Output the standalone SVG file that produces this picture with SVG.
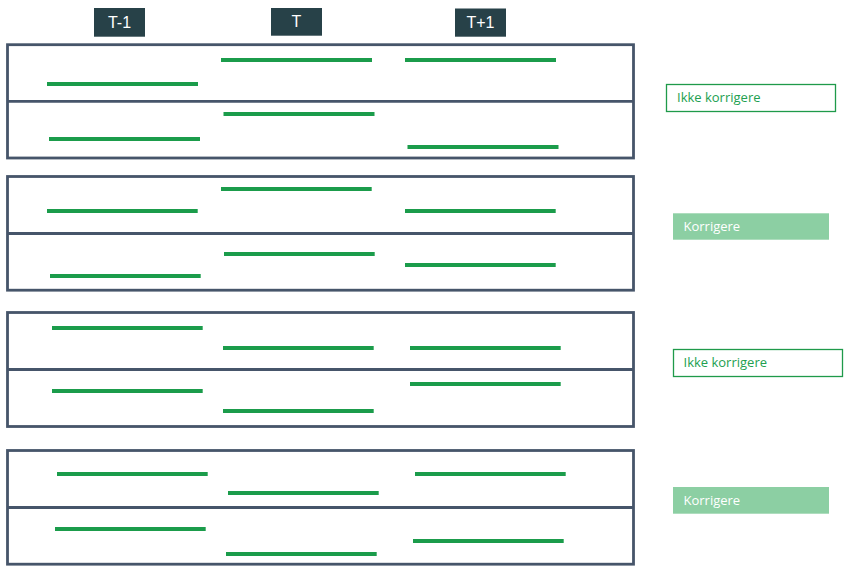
<svg xmlns="http://www.w3.org/2000/svg" width="865" height="582" viewBox="0 0 865 582">
<style>
.hdr{fill:#274148}
.hdrt{font-family:"Liberation Sans",Arial,sans-serif;font-size:16px;fill:#ffffff;text-anchor:middle}
.frame{fill:none;stroke:#46556a;stroke-width:2.8}
.div{stroke:#46556a;stroke-width:2.8}
.bar{stroke:#1b9c4b;stroke-width:4}
.lbl{font-family:"Open Sans","Noto Sans",sans-serif;font-size:13px}
.out{fill:#ffffff;stroke:#1f9a4a;stroke-width:1.3}
.outt{fill:#22a050}
.fill{fill:#8ccfa3}
.fillt{fill:#ffffff}
</style>
<rect width="865" height="582" fill="#ffffff"/>
<g id="header-t-1"><rect class="hdr" x="94" y="8" width="51" height="28.7"/><text class="hdrt" x="119.5" y="27.5">T-1</text></g>
<g id="header-t"><rect class="hdr" x="271" y="8" width="51" height="27.7"/><text class="hdrt" x="296.3" y="27">T</text></g>
<g id="header-t1"><rect class="hdr" x="455" y="8.5" width="51" height="28.2"/><text class="hdrt" x="480.5" y="27.5">T+1</text></g>

<g id="case1">
<rect class="frame" x="7.5" y="44.7" width="626" height="113.3"/>
<line class="div" x1="7.5" y1="101.3" x2="633.5" y2="101.3"/>
<line class="bar" x1="221" y1="60" x2="372" y2="60"/>
<line class="bar" x1="405" y1="60" x2="556" y2="60"/>
<line class="bar" x1="47" y1="84" x2="198" y2="84"/>
<line class="bar" x1="223.5" y1="114" x2="374.5" y2="114"/>
<line class="bar" x1="49" y1="139" x2="200" y2="139"/>
<line class="bar" x1="407.5" y1="147" x2="558.5" y2="147"/>
</g>
<g id="case2">
<rect class="frame" x="7.5" y="176.5" width="626" height="113.7"/>
<line class="div" x1="7.5" y1="233.5" x2="633.5" y2="233.5"/>
<line class="bar" x1="221" y1="189" x2="371.7" y2="189"/>
<line class="bar" x1="47" y1="211" x2="197.7" y2="211"/>
<line class="bar" x1="405" y1="211" x2="555.7" y2="211"/>
<line class="bar" x1="224" y1="254" x2="374.7" y2="254"/>
<line class="bar" x1="405" y1="265" x2="555.7" y2="265"/>
<line class="bar" x1="50" y1="276" x2="200.7" y2="276"/>
</g>
<g id="case3">
<rect class="frame" x="7.5" y="312.5" width="626" height="114"/>
<line class="div" x1="7.5" y1="369.5" x2="633.5" y2="369.5"/>
<line class="bar" x1="52" y1="328" x2="202.7" y2="328"/>
<line class="bar" x1="223" y1="348" x2="373.7" y2="348"/>
<line class="bar" x1="410" y1="348" x2="560.7" y2="348"/>
<line class="bar" x1="410" y1="384" x2="560.7" y2="384"/>
<line class="bar" x1="52" y1="391" x2="202.7" y2="391"/>
<line class="bar" x1="223" y1="411" x2="373.7" y2="411"/>
</g>
<g id="case4">
<rect class="frame" x="7.5" y="450.5" width="626" height="113.7"/>
<line class="div" x1="7.5" y1="507.5" x2="633.5" y2="507.5"/>
<line class="bar" x1="57" y1="474" x2="207.7" y2="474"/>
<line class="bar" x1="415" y1="474" x2="565.7" y2="474"/>
<line class="bar" x1="228" y1="493" x2="378.7" y2="493"/>
<line class="bar" x1="55" y1="529" x2="205.7" y2="529"/>
<line class="bar" x1="413" y1="541" x2="563.7" y2="541"/>
<line class="bar" x1="226" y1="554" x2="376.7" y2="554"/>
</g>

<g id="label1"><rect class="out" x="666.5" y="84.5" width="169" height="27"/><text class="lbl outt" x="677" y="102">Ikke korrigere</text></g>
<g id="label2"><rect class="fill" x="673" y="213.3" width="156" height="26.4"/><text class="lbl fillt" x="683.5" y="231">Korrigere</text></g>
<g id="label3"><rect class="out" x="673.5" y="349.5" width="169" height="27"/><text class="lbl outt" x="683.5" y="367">Ikke korrigere</text></g>
<g id="label4"><rect class="fill" x="673" y="487" width="156" height="26.7"/><text class="lbl fillt" x="683.5" y="504.5">Korrigere</text></g>
<g id="connectors"></g>
</svg>
